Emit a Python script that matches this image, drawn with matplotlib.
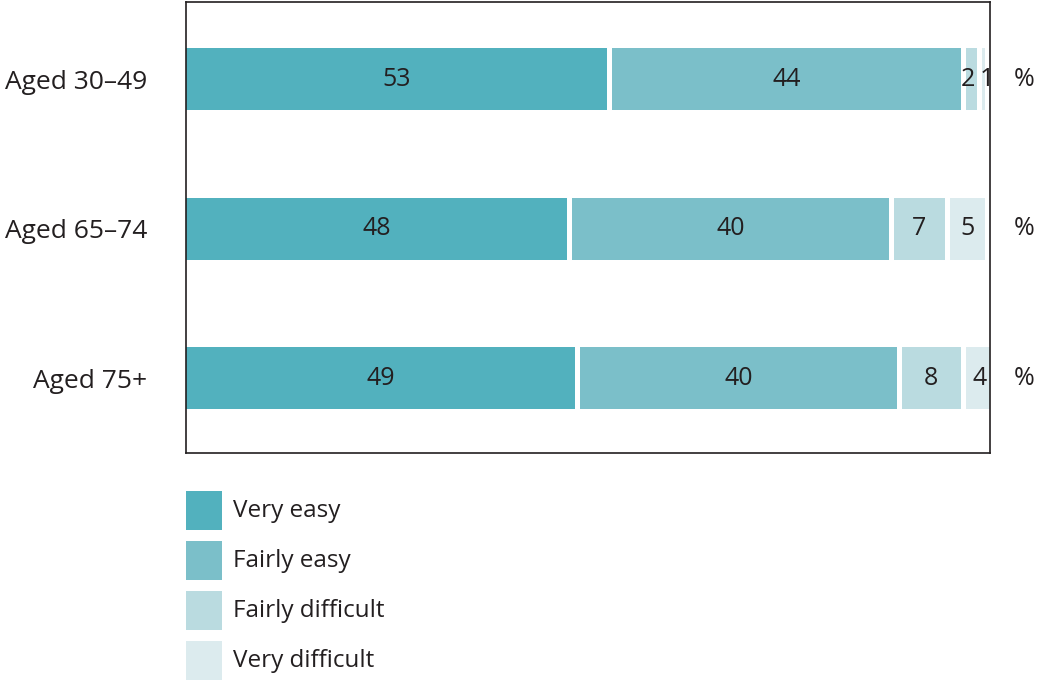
import matplotlib.pyplot as plt
from matplotlib.patches import Rectangle
import numpy as np

plt.rcParams['font.family'] = ['Open Sans', 'DejaVu Sans']

# Daten
groups = ['Aged 30–49', 'Aged 65–74', 'Aged 75+']
categories = ['Very easy', 'Fairly easy', 'Fairly difficult', 'Very difficult']
very_easy = [53, 48, 49]
fairly_easy = [44, 40, 40]
fairly_difficult = [2, 7, 8]
very_difficult = [1, 5, 4]
colors = ['#52b1be', '#7bbfc9', '#badbe0', '#dcebee']
text_color = '#231f20'

series = [very_easy, fairly_easy, fairly_difficult, very_difficult]

fig = plt.figure(figsize=(10.37, 6.8), dpi=100)
ax = fig.add_axes([186 / 1037, 1 - 453 / 680, (990 - 186) / 1037, 451 / 680])

y = np.arange(len(groups))
left = np.zeros(len(groups))
gap = 0.6
for vals, col in zip(series, colors):
    vals = np.array(vals, dtype=float)
    ax.barh(y, vals - gap, left=left, height=0.415, color=col, linewidth=0)
    for yi, l, v in zip(y, left, vals):
        # sehr schmale Segmente: Beschriftungen etwas auseinanderschieben
        shift = 0
        if v <= 2:
            shift = -0.5 if v == 2 else 0.45
        ax.text(l + (v - gap) / 2 + shift, yi, str(int(v)), ha='center', va='center',
                fontsize=18, color=text_color)
    left += vals

for yi in y:
    ax.text(104.2, yi, '%', ha='center', va='center', fontsize=18,
            color=text_color, clip_on=False)

ax.set_xlim(0, 100)
ax.set_ylim(2.5, -0.515)
ax.set_yticks(y)
ax.set_yticklabels(groups, fontsize=19, color=text_color)
ax.tick_params(axis='y', length=0, pad=28)
ax.set_xticks([])
for s in ax.spines.values():
    s.set_linewidth(1.2)
    s.set_color('#231f20')

# Legende
for i, (cat, col) in enumerate(zip(categories, colors)):
    top = 491 + i * 50
    fig.add_artist(Rectangle((186 / 1037, 1 - (top + 39) / 680), 36 / 1037, 39 / 680,
                             transform=fig.transFigure, color=col, linewidth=0))
    fig.text(233 / 1037, 1 - (top + 20) / 680, cat, ha='left', va='center',
             fontsize=17.5, color=text_color)

fig.savefig('out.png', dpi=100)
